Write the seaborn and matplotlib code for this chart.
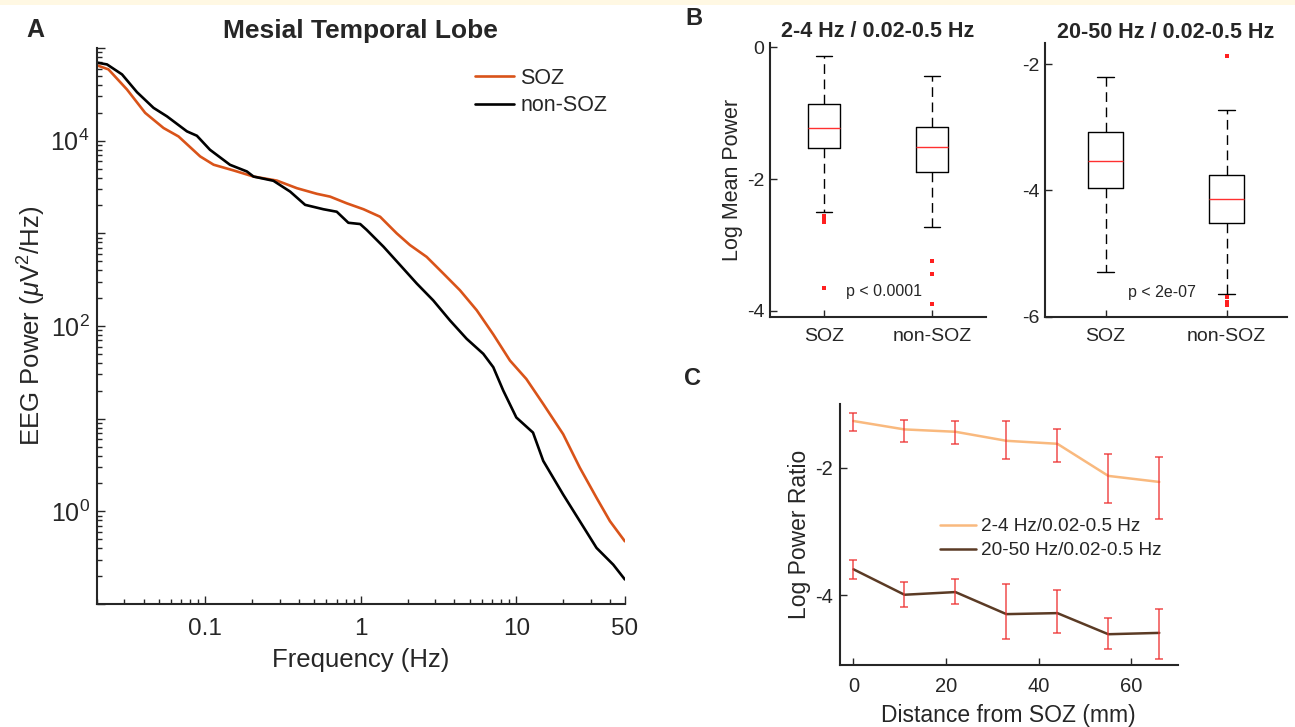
import numpy as np
import pandas as pd
import matplotlib
matplotlib.use("Agg")
import matplotlib.pyplot as plt
import seaborn as sns
from matplotlib.ticker import LogLocator, NullFormatter
from matplotlib.patches import Rectangle

# ---------------- Panel A: power spectra ----------------
soz_freq = [0.0201, 0.0238, 0.0313, 0.0410, 0.0538, 0.0672, 0.0926, 0.113, 0.152, 0.204,
            0.288, 0.388, 0.521, 0.634, 0.811, 1.04, 1.33, 1.70, 2.07, 2.65, 3.39, 4.34,
            5.56, 7.11, 9.10, 11.6, 14.9, 20.0, 25.6, 32.8, 40.0, 49.9]
soz_power = [65000, 58800, 35700, 19950, 13700, 11100, 6760, 5500, 4770, 4100,
             3710, 3070, 2670, 2490, 2110, 1820, 1510, 1000, 747, 557, 369, 243,
             148, 81.1, 42.4, 26.8, 14.4, 6.81, 2.96, 1.40, 0.784, 0.475]
nonsoz_freq = [0.0201, 0.0233, 0.0291, 0.0363, 0.0464, 0.0566, 0.0761, 0.0882, 0.107, 0.144,
               0.185, 0.204, 0.274, 0.351, 0.438, 0.574, 0.700, 0.831, 0.99, 1.09, 1.40,
               1.79, 2.29, 2.92, 3.74, 4.79, 6.13, 7.11, 8.24, 10.0, 12.8, 14.9, 20.0,
               25.6, 32.8, 42.0, 49.9]
nonsoz_power = [69500, 66500, 51900, 33400, 22600, 18300, 12600, 11300, 7980, 5490,
                4650, 4100, 3690, 2820, 2030, 1820, 1710, 1300, 1260, 1090, 716,
                454, 287, 189, 115, 72.8, 50.1, 35.9, 20.1, 10.3, 7.08, 3.50, 1.52,
                0.784, 0.403, 0.266, 0.184]

# ---------------- Panel B: box plot summaries ----------------
groups = ["SOZ", "non-SOZ"]
# 2-4 Hz / 0.02-0.5 Hz
b1_q1 = [-1.528, -1.898]
b1_med = [-1.218, -1.513]
b1_q3 = [-0.863, -1.213]
b1_lo = [-2.497, -2.726]
b1_hi = [-0.137, -0.431]
b1_fliers = [[-2.563, -2.609, -2.655, -3.65], [-3.249, -3.437, -3.904]]
# 20-50 Hz / 0.02-0.5 Hz
b2_q1 = [-3.963, -4.519]
b2_med = [-3.534, -4.143]
b2_q3 = [-3.074, -3.751]
b2_lo = [-5.286, -5.640]
b2_hi = [-2.212, -2.735]
b2_fliers = [[], [-1.873, -5.693, -5.762, -5.810]]

# ---------------- Panel C: ratio vs distance ----------------
distance = [0, 11, 22, 33, 44, 55, 66]
low_ratio = [-1.263, -1.395, -1.432, -1.574, -1.621, -2.126, -2.221]
low_err_top = [-1.132, -1.253, -1.268, -1.263, -1.395, -1.779, -1.826]
low_err_bot = [-1.416, -1.600, -1.626, -1.868, -1.911, -2.553, -2.800]
high_ratio = [-3.595, -3.995, -3.953, -4.300, -4.284, -4.616, -4.595]
high_err_top = [-3.447, -3.789, -3.742, -3.832, -3.926, -4.368, -4.226]
high_err_bot = [-3.747, -4.189, -4.147, -4.695, -4.595, -4.842, -5.000]

# ---------------- style ----------------
sns.set_theme(style="ticks")
plt.rcParams["font.family"] = ["Liberation Sans", "DejaVu Sans"]
plt.rcParams["mathtext.fontset"] = "custom"
plt.rcParams["mathtext.rm"] = "Liberation Sans"
plt.rcParams["mathtext.it"] = "Liberation Sans:italic"
plt.rcParams["mathtext.bf"] = "Liberation Sans:bold"
AX = "#262626"

W, H = 1295, 727
fig = plt.figure(figsize=(W / 100, H / 100), dpi=100)
fig.patches.append(Rectangle((0, 1 - 5 / H), 1, 5 / H, transform=fig.transFigure,
                             facecolor="#FFF8E3", edgecolor="none", zorder=-10))


def rect(l, r, t, b):
    return [l / W, (H - b) / H, (r - l) / W, (b - t) / H]


def style_axes(ax, lw=1.3):
    for s in ["top", "right"]:
        ax.spines[s].set_visible(False)
    for s in ["left", "bottom"]:
        ax.spines[s].set_linewidth(lw)
        ax.spines[s].set_color(AX)


# ---------- A ----------
axA = fig.add_axes(rect(96.7, 625, 48, 604))
dfA = pd.DataFrame({
    "freq": soz_freq + nonsoz_freq,
    "power": soz_power + nonsoz_power,
    "group": ["SOZ"] * len(soz_freq) + ["non-SOZ"] * len(nonsoz_freq),
})
sns.lineplot(data=dfA, x="freq", y="power", hue="group", hue_order=["SOZ", "non-SOZ"],
             palette={"SOZ": "#D95319", "non-SOZ": "black"}, estimator=None,
             linewidth=1.9, ax=axA)
axA.set(xscale="log", yscale="log")
axA.set_xlim(0.02, 50)
axA.set_ylim(0.1, 1e5)
axA.set_xticks([0.1, 1, 10, 50])
axA.set_xticklabels(["0.1", "1", "10", "50"])
axA.xaxis.set_minor_locator(LogLocator(base=10, subs=np.arange(2, 10), numticks=30))
axA.xaxis.set_minor_formatter(NullFormatter())
axA.set_yticks([0.1, 1, 10, 100, 1e3, 1e4, 1e5])
axA.set_yticklabels(["", "$10^{0}$", "", "$10^{2}$", "", "$10^{4}$", ""])
axA.yaxis.set_minor_locator(LogLocator(base=10, subs=np.arange(2, 10), numticks=30))
axA.yaxis.set_minor_formatter(NullFormatter())
style_axes(axA, 1.5)
axA.tick_params(which="both", direction="in", color=AX, width=1)
axA.tick_params(which="major", length=6)
axA.tick_params(which="minor", length=3.5)
axA.tick_params(axis="x", pad=10, labelsize=17.5)
axA.tick_params(axis="y", pad=5, labelsize=18)
axA.set_xlabel("Frequency (Hz)", fontsize=18.5)
axA.set_ylabel(r"EEG Power ($\mu$V$^2$/Hz)", fontsize=18.5)
axA.xaxis.set_label_coords(0.5, -0.079)
axA.yaxis.set_label_coords(-0.092, 0.5)
axA.set_title("Mesial Temporal Lobe", fontsize=19, fontweight="bold", pad=7)
axA.legend(loc="upper left", bbox_to_anchor=(475 / W, 1 - 68 / H),
           bbox_transform=fig.transFigure, frameon=False, fontsize=15.5,
           handlelength=1.8, handletextpad=0.3, labelspacing=0.3,
           borderaxespad=0, borderpad=0)
fig.text(26 / W, 1 - 37 / H, "A", fontsize=18, fontweight="bold", va="baseline")


# ---------- B ----------
def box_observations(q1, med, q3, lo, hi, fliers):
    low = sorted(f for f in fliers if f < q1) + [lo]
    high = [hi] + sorted(f for f in fliers if f > q3)
    k = max(len(low), len(high))
    return low + [q1] * (2 * k - len(low)) + [med] + [q3] * (2 * k - len(high)) + high


def box_frame(q1, med, q3, lo, hi, fliers):
    rows = []
    for i, g in enumerate(groups):
        for v in box_observations(q1[i], med[i], q3[i], lo[i], hi[i], fliers[i]):
            rows.append((g, v))
    return pd.DataFrame(rows, columns=["group", "value"])


def draw_box(ax, df, title, ylim, yticks, ylabel, ptext, pxy):
    sns.boxplot(data=df, x="group", y="value", order=groups, fill=False, color="black",
                width=0.29, linewidth=1, whis=1.5, ax=ax,
                boxprops=dict(color="black", linewidth=1),
                medianprops=dict(color="#FF3030", linewidth=1),
                whiskerprops=dict(color="black", linewidth=1, linestyle=(0, (7, 4))),
                capprops=dict(color="black", linewidth=1),
                flierprops=dict(marker="s", markersize=2.5, markeredgewidth=0,
                                markerfacecolor="#FF2020", markeredgecolor="#FF2020"))
    ax.set_xlim(-0.5, 1.5)
    ax.set_ylim(*ylim)
    ax.set_yticks(yticks)
    ax.set_yticklabels([f"{t:g}" for t in yticks])
    ax.set_xlabel("")
    ax.set_ylabel(ylabel, fontsize=15.5)
    style_axes(ax, 1.5)
    ax.tick_params(which="both", direction="in", color=AX, width=1, length=5, labelsize=14)
    ax.tick_params(axis="x", pad=8)
    ax.tick_params(axis="y", pad=4)
    ax.set_title(title, fontsize=15.5, fontweight="bold", pad=4)
    ax.text(pxy[0], pxy[1], ptext, fontsize=11.5, ha="left", va="center")


axB1 = fig.add_axes(rect(770, 986, 43, 317))
draw_box(axB1, box_frame(b1_q1, b1_med, b1_q3, b1_lo, b1_hi, b1_fliers),
         "2-4 Hz / 0.02-0.5 Hz", (-4.096, 0.066), [0, -2, -4], "Log Mean Power",
         "p < 0.0001", (0.20, -3.71))
axB1.yaxis.set_label_coords(-0.125, 0.5)

axB2 = fig.add_axes(rect(1045, 1287, 43.3, 316.7))
draw_box(axB2, box_frame(b2_q1, b2_med, b2_q3, b2_lo, b2_hi, b2_fliers),
         "20-50 Hz / 0.02-0.5 Hz", (-6.0, -1.672), [-2, -4, -6], "",
         "p < 2e-07", (0.188, -5.61))
fig.text(685 / W, 1 - 25 / H, "B", fontsize=17, fontweight="bold", va="baseline")

# ---------- C ----------
axC = fig.add_axes(rect(839.6, 1177.8, 404.3, 665))
label_low = "2-4 Hz/0.02-0.5 Hz"
label_high = "20-50 Hz/0.02-0.5 Hz"
dfC = pd.DataFrame({
    "distance": distance + distance,
    "ratio": low_ratio + high_ratio,
    "band": [label_low] * len(distance) + [label_high] * len(distance),
})
sns.lineplot(data=dfC, x="distance", y="ratio", hue="band", hue_order=[label_low, label_high],
             palette={label_low: "#F9B97E", label_high: "#5B3B25"}, estimator=None,
             linewidth=1.8, ax=axC)
for vals, top, bot in [(low_ratio, low_err_top, low_err_bot),
                       (high_ratio, high_err_top, high_err_bot)]:
    v = np.array(vals)
    axC.errorbar(distance, v, yerr=[v - np.array(bot), np.array(top) - v], fmt="none",
                 ecolor="#EE3030", elinewidth=1.1, capsize=2.8, capthick=1.1, alpha=0.85,
                 zorder=3)
axC.set_xlim(-3, 70)
axC.set_ylim(-5.1, -1.0)
axC.set_xticks([0, 20, 40, 60])
axC.set_yticks([-2, -4])
axC.set_yticklabels(["-2", "-4"])
style_axes(axC, 1.5)
axC.tick_params(which="both", direction="in", color=AX, width=1, length=5, labelsize=14.5)
axC.tick_params(axis="x", pad=9)
axC.tick_params(axis="y", pad=5)
axC.set_xlabel("Distance from SOZ (mm)", fontsize=16.5)
axC.set_ylabel("Log Power Ratio", fontsize=16.5)
axC.xaxis.set_label_coords(0.5, -0.148)
axC.yaxis.set_label_coords(-0.084, 0.5)
axC.legend(loc="upper left", bbox_to_anchor=(940 / W, 1 - 518 / H),
           bbox_transform=fig.transFigure, frameon=False, fontsize=13.7,
           handlelength=1.9, handletextpad=0.25, labelspacing=0.35,
           borderaxespad=0, borderpad=0)
fig.text(684 / W, 1 - 385 / H, "C", fontsize=17, fontweight="bold", va="baseline")

fig.savefig("out.png", dpi=100)
